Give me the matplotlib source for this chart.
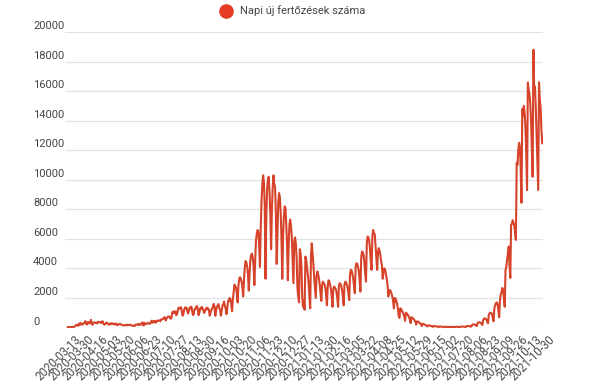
import matplotlib
matplotlib.use("Agg")
import matplotlib.pyplot as plt
from matplotlib.lines import Line2D
from matplotlib.transforms import ScaledTranslation

# napi uj fertozesek, honaponkent (2020-03-13 -> 2021-10-30)
mar20 = [25, 30, 20, 29, 26, 44, 31, 31, 59, 66, 143, 186, 144, 123, 263, 160, 308, 263, 198]
apr20 = [211, 290, 320, 430, 264, 193, 357, 367, 274, 309, 523, 264, 185, 306, 357, 331, 307, 321, 274, 380,
         383, 347, 370, 313, 417, 405, 227, 190, 238, 306]
may20 = [327, 279, 210, 190, 246, 289, 228, 274, 261, 219, 190, 269, 262, 151, 190, 220, 245, 205, 212, 180,
         148, 150, 148, 176, 136, 190, 155, 180, 175, 170, 190]
jun20 = [125, 119, 115, 130, 105, 187, 200, 198, 228, 164, 235, 214, 189, 326, 331, 133, 320, 214, 234, 259,
         320, 276, 250, 260, 325, 460, 320, 390, 460, 330]
jul20 = [420, 340, 460, 460, 470, 480, 420, 545, 555, 550, 610, 700, 600, 470, 660, 690, 745, 750, 690, 590,
         640, 1030, 980, 1100, 980, 1090, 830, 890, 1150, 1350, 1300]
aug20 = [1280, 1370, 1100, 800, 920, 1220, 1360, 1300, 1345, 1080, 950, 1180, 1350, 1300, 1410, 1100, 850, 900,
         1250, 1250, 1400, 1450, 1260, 830, 1000, 1300, 1250, 1400, 1300, 1200, 980]
sep20 = [1100, 1230, 1340, 1230, 1290, 1200, 800, 1000, 1160, 1290, 1370, 1600, 1400, 790, 1150, 1400, 1500,
         1590, 1300, 1200, 800, 1100, 1500, 1550, 1760, 1450, 1300, 900, 1300, 1800]
oct20 = [1800, 2000, 1900, 1600, 1100, 1900, 2400, 2900, 2800, 2700, 2300, 1700, 2800, 3300, 3400, 3300, 3100,
         2700, 2100, 3200, 4100, 4500, 4400, 4100, 3600, 2500, 3700, 4600, 4900, 5000, 4700]
nov20 = [4200, 2870, 4500, 5900, 6300, 6600, 6500, 5600, 4100, 6800, 8600, 9700, 10300, 9800, 8200, 3300, 7600,
         9400, 10000, 10200, 9200, 7700, 5300, 8000, 9500, 10300, 9700, 9500, 7600, 4300]
dec20 = [6400, 8500, 9100, 8800, 7800, 6000, 3300, 6200, 7500, 8200, 8100, 7000, 5600, 3200, 5600, 7000, 7300,
         6800, 6100, 4600, 3000, 5800, 6100, 5700, 4700, 2700, 2100, 1700, 5300, 5000, 4200]
jan21 = [2100, 1400, 1800, 1200, 4800, 4600, 4100, 3600, 3000, 2200, 1300, 4800, 5700, 5000, 4300, 3400, 2700,
         2000, 3500, 3800, 3600, 3300, 2900, 2300, 1800, 2900, 3100, 3000, 2900, 2700, 2200]
feb21 = [1500, 2800, 3200, 3100, 2900, 2600, 2100, 1400, 2600, 2770, 2700, 2600, 2400, 2000, 1400, 2800, 3000,
         2950, 2800, 2500, 2100, 1500, 2900, 3100, 3050, 2900, 2700, 2300]
mar21 = [1860, 3600, 3900, 3850, 3600, 3300, 2800, 2320, 4100, 4350, 4300, 4100, 3800, 3200, 2430, 4700, 5140,
         5100, 4900, 4400, 3700, 3100, 5700, 6160, 6100, 5900, 5300, 4500, 3900, 6200, 6600]
apr21 = [6400, 6300, 5500, 4600, 3900, 5100, 5370, 5200, 4900, 4500, 4200, 3300, 3800, 4000, 3900, 3600, 3300,
         2900, 2100, 2500, 2540, 2450, 2300, 2100, 1800, 1300, 2000, 1950, 1800, 1600]
may21 = [1300, 800, 650, 1300, 1250, 1150, 1050, 900, 750, 450, 1000, 950, 900, 800, 700, 550, 300, 700, 650,
         620, 560, 480, 380, 200, 420, 400, 380, 330, 280, 220, 100]
jun21 = [250, 240, 210, 190, 160, 120, 70, 150, 140, 130, 110, 90, 80, 40, 100, 95, 90, 80, 70, 50, 30, 70, 65,
         60, 55, 50, 35, 20, 50, 50]
jul21 = [45, 40, 40, 30, 15, 45, 40, 40, 40, 25, 15, 50, 50, 45, 45, 40, 30, 20, 60, 70, 65, 60, 55, 40, 30, 90,
         100, 100, 95, 90]
aug21 = [70, 60, 170, 200, 210, 200, 190, 140, 100, 300, 350, 360, 340, 320, 240, 170, 500, 600, 620, 580, 550,
         400, 280, 850, 960, 1000, 980, 900, 650, 420, 1300]
sep21 = [1500, 1650, 1700, 1600, 1200, 700, 1860, 2200, 2400, 2680, 2500, 2000, 1400, 3900, 4100, 4600, 5000,
         5480, 4200, 3350, 6950, 7000, 7260, 7100, 6900, 6400, 5930, 11150, 11000, 12000]
oct21 = [12500, 12200, 10800, 8440, 14800, 14300, 15000, 14500, 13500, 11800, 9300, 16580, 16100, 15800, 15200,
         14000, 12000, 10200, 18800, 16000, 16300, 14800, 13000, 11000, 9300, 16600, 15400, 14900, 13400, 12470]

napi = (mar20 + apr20 + may20 + jun20 + jul20 + aug20 + sep20 + oct20 + nov20 + dec20 +
        jan21 + feb21 + mar21 + apr21 + may21 + jun21 + jul21 + aug21 + sep21 + oct21)

datum_cimkek = ["2020-03-13", "2020-03-30", "2020-04-16", "2020-05-03", "2020-05-20", "2020-06-06",
                "2020-06-23", "2020-07-10", "2020-07-27", "2020-08-13", "2020-08-30", "2020-09-16",
                "2020-10-03", "2020-10-20", "2020-11-06", "2020-11-23", "2020-12-10", "2020-12-27",
                "2021-01-13", "2021-01-30", "2021-02-16", "2021-03-05", "2021-03-22", "2021-04-08",
                "2021-04-25", "2021-05-12", "2021-05-29", "2021-06-15", "2021-07-02", "2021-07-20",
                "2021-08-06", "2021-08-23", "2021-09-09", "2021-09-26", "2021-10-13", "2021-10-30"]

plt.rcParams["font.family"] = ["Roboto", "DejaVu Sans"]

fig = plt.figure(figsize=(6.01, 3.85), dpi=100)
ax = fig.add_axes([65 / 601, (385 - 327.5) / 385, (543 - 65) / 601, (327.5 - 32) / 385])

ax.plot(range(len(napi)), napi, color="#d6432a", lw=1.5, solid_joinstyle="round")

ax.set_xlim(-3.5, 596)
ax.set_ylim(0, 20000)
ax.set_yticks(range(0, 20001, 2000))
ax.grid(axis="y", color="#e2e2e2", lw=0.9)
ax.set_axisbelow(True)
for s in ax.spines.values():
    s.set_visible(False)

ax.set_xticks(range(0, len(napi), 17))
ax.set_xticklabels(datum_cimkek, rotation=45, ha="right", va="center", rotation_mode="anchor",
                   fontsize=8.3, color="#4a4a4a")
ax.tick_params(axis="both", length=0)
ax.tick_params(axis="x", pad=7)
ax.tick_params(axis="y", pad=23, labelsize=8, labelcolor="#444444")

# y cimkek balra igazitva, a racsvonal folott
off_y = ScaledTranslation(0, 5 / 72, fig.dpi_scale_trans)
for lab in ax.get_yticklabels():
    lab.set_horizontalalignment("left")
    lab.set_transform(lab.get_transform() + off_y)
off_x = ScaledTranslation(8 / 72, 0, fig.dpi_scale_trans)
for lab in ax.get_xticklabels():
    lab.set_transform(lab.get_transform() + off_x)

jel = Line2D([], [], marker="o", ls="", color="#e53b25", markersize=9.5)
fig.legend(handles=[jel], labels=["Napi új fertőzések száma"], loc="center",
           bbox_to_anchor=(290 / 601, 1 - 11 / 385), frameon=False, fontsize=8,
           handletextpad=0.3, labelcolor="#444444")

fig.savefig("out.png", dpi=100)
